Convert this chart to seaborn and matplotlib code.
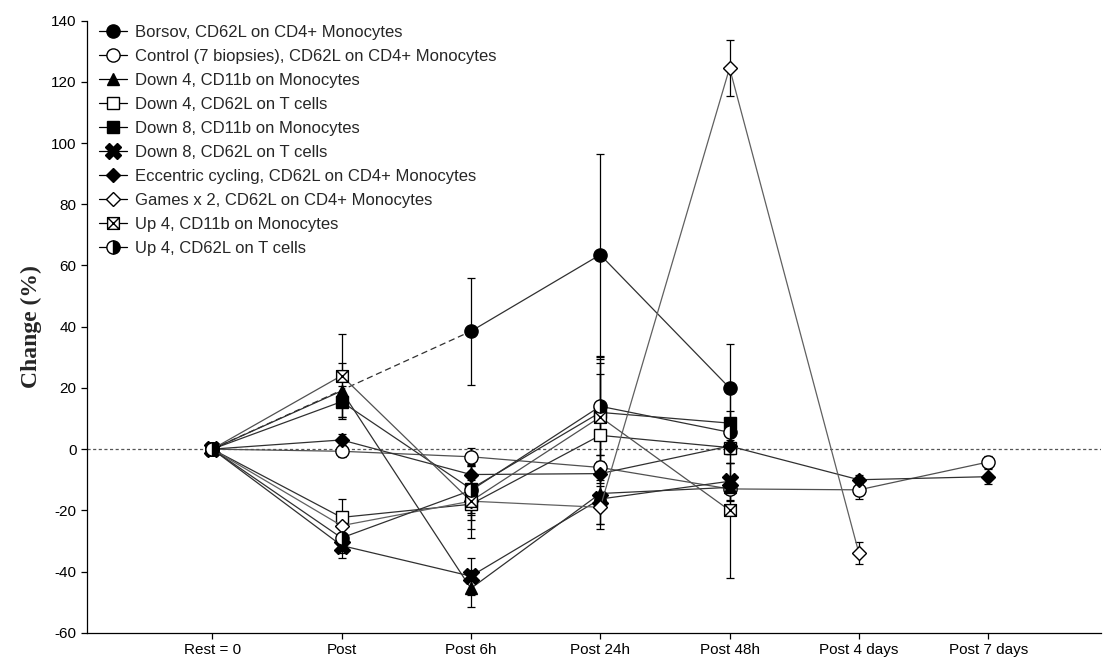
import numpy as np
import pandas as pd
import matplotlib
matplotlib.use("Agg")
import matplotlib.pyplot as plt
from matplotlib.path import Path
from matplotlib.lines import Line2D
import seaborn as sns

# Time points on the x axis
timepoints = ["Rest = 0", "Post", "Post 6h", "Post 24h", "Post 48h", "Post 4 days", "Post 7 days"]

# Series labels
labels = [
    "Borsov, CD62L on CD4+ Monocytes",
    "Control (7 biopsies), CD62L on CD4+ Monocytes",
    "Down 4, CD11b on Monocytes",
    "Down 4, CD62L on T cells",
    "Down 8, CD11b on Monocytes",
    "Down 8, CD62L on T cells",
    "Eccentric cycling, CD62L on CD4+ Monocytes",
    "Games x 2, CD62L on CD4+ Monocytes",
    "Up 4, CD11b on Monocytes",
    "Up 4, CD62L on T cells",
]

nan = np.nan
# Mean change (%) at each time point
borsov      = [0, nan, 38.5, 63.5, 20.0, nan, nan]
control     = [0, -0.7, -2.5, -6.0, -13.0, -13.3, -4.2]
down4_cd11b = [0, 19.0, -45.5, -14.5, -12.5, nan, nan]
down4_cd62l = [0, -22.3, -18.0, 4.5, 0.5, nan, nan]
down8_cd11b = [0, 15.5, -13.0, 12.0, 8.5, nan, nan]
down8_cd62l = [0, -31.5, -41.5, -16.3, -10.5, nan, nan]
eccentric   = [0, 3.0, -8.3, -8.0, 1.0, -10.0, -9.0]
games       = [0, -25.0, -17.0, -19.0, 124.5, -34.0, nan]
up4_cd11b   = [0, 24.0, -17.0, 10.5, -20.0, nan, nan]
up4_cd62l   = [0, -29.0, -13.5, 14.0, 5.5, nan, nan]

# Error bar half-widths
borsov_err      = [0, nan, 17.5, 33.0, 14.5, nan, nan]
control_err     = [0, 2.0, 3.0, 4.0, 4.0, 3.0, 2.0]
down4_cd11b_err = [0, 9.0, 6.0, 10.0, 8.0, nan, nan]
down4_cd62l_err = [0, 6.0, 8.0, 20.0, 5.0, nan, nan]
down8_cd11b_err = [0, 5.0, 10.0, 16.0, 10.0, nan, nan]
down8_cd62l_err = [0, 4.0, 6.0, 8.0, 6.0, nan, nan]
eccentric_err   = [0, 2.0, 3.0, 3.0, 2.0, 1.5, 2.5]
games_err       = [0, 3.0, 4.0, 7.0, 9.0, 3.5, nan]
up4_cd11b_err   = [0, 13.5, 12.0, 19.0, 22.0, nan, nan]
up4_cd62l_err   = [0, 5.0, 8.0, 16.0, 7.0, nan, nan]

values = [borsov, control, down4_cd11b, down4_cd62l, down8_cd11b,
          down8_cd62l, eccentric, games, up4_cd11b, up4_cd62l]
errors = [borsov_err, control_err, down4_cd11b_err, down4_cd62l_err, down8_cd11b_err,
          down8_cd62l_err, eccentric_err, games_err, up4_cd11b_err, up4_cd62l_err]

# Square with a cross inside
boxed_x = Path(
    [(-1, -1), (1, -1), (1, 1), (-1, 1), (-1, -1), (-1, -1), (1, 1), (-1, 1), (1, -1)],
    [Path.MOVETO, Path.LINETO, Path.LINETO, Path.LINETO, Path.CLOSEPOLY,
     Path.MOVETO, Path.LINETO, Path.MOVETO, Path.LINETO],
)

styles = [
    dict(marker="o", markersize=9.5, markerfacecolor="black", color="#303030"),
    dict(marker="o", markersize=9.5, markerfacecolor="white", color="#505050"),
    dict(marker="^", markersize=9, markerfacecolor="black", color="#303030"),
    dict(marker="s", markersize=8.5, markerfacecolor="white", color="#303030"),
    dict(marker="s", markersize=8.5, markerfacecolor="black", color="#303030"),
    dict(marker="X", markersize=11.5, markerfacecolor="black", color="#303030"),
    dict(marker="D", markersize=7, markerfacecolor="black", color="#303030"),
    dict(marker="D", markersize=7, markerfacecolor="white", color="#606060"),
    dict(marker=boxed_x, markersize=8.5, markerfacecolor="white", color="#505050"),
    dict(marker="o", markersize=9.5, markerfacecolor="black", fillstyle="right",
         markerfacecoloralt="white", color="#303030"),
]

sns.set_style("ticks")
plt.rcParams["font.family"] = ["Liberation Sans", "DejaVu Sans"]
plt.rcParams["axes.unicode_minus"] = False

fig = plt.figure(figsize=(11.03, 6.64), dpi=100)
ax = fig.add_axes([0.079, 0.047, 0.919, 0.922])

x_idx = np.arange(len(timepoints))

# Reference line at zero change
ax.axhline(0, color="#555555", lw=0.9, ls=(0, (2.5, 2)), zorder=1)

handles = []
for i, (lab, vals, errs, st) in enumerate(zip(labels, values, errors, styles)):
    df = pd.DataFrame({"t": x_idx, "change": vals, "err": errs}).dropna()
    ax.errorbar(df["t"], df["change"], yerr=df["err"], fmt="none", ecolor="black",
                elinewidth=0.9, capsize=3, capthick=0.9, zorder=2 + i * 0.1)
    mec = "black"
    kw = {k: v for k, v in st.items() if k != "color"}
    if lab.startswith("Borsov"):
        # measurement missing at "Post": dashed bridge, solid afterwards
        bridge = df[df["t"] <= 2]
        ax.plot(bridge["t"], bridge["change"], color=st["color"], lw=0.9,
                ls=(0, (5, 3)), zorder=3)
        sns.lineplot(data=df[df["t"] >= 2], x="t", y="change", ax=ax, color=st["color"],
                     lw=0.9, markeredgecolor=mec, markeredgewidth=1.0, errorbar=None,
                     sort=False, zorder=3 + i * 0.1, **kw)
        ax.plot(0, 0, linestyle="none", markeredgecolor=mec, zorder=3, **kw)
    else:
        sns.lineplot(data=df, x="t", y="change", ax=ax, color=st["color"], lw=0.9,
                     markeredgecolor=mec, markeredgewidth=1.0, errorbar=None,
                     sort=False, zorder=3 + i * 0.1, **kw)
    handles.append(Line2D([], [], color="black", lw=0.9, markeredgecolor=mec,
                          markeredgewidth=1.0, **kw))

ax.set_xlim(-0.967, 6.87)
ax.set_ylim(-60, 140)
ax.set_yticks(np.arange(-60, 141, 20))
ax.set_xticks(x_idx)
ax.set_xticklabels(timepoints)
ax.tick_params(axis="both", labelsize=11, colors="black", direction="out", length=4, width=0.9)
ax.set_xlabel("")
ax.set_ylabel("Change (%)", fontsize=17, fontweight="bold", family="Liberation Serif")
ax.yaxis.set_label_coords(-0.045, 0.5)
sns.despine(ax=ax)
for s in ("left", "bottom"):
    ax.spines[s].set_color("black")
    ax.spines[s].set_linewidth(0.9)

leg = ax.legend(handles, labels, loc="upper left", bbox_to_anchor=(0.0, 1.012),
                frameon=False, fontsize=12, handlelength=1.7, handletextpad=0.45,
                labelspacing=0.54, borderaxespad=0.3)

fig.savefig("out.png", dpi=100)
